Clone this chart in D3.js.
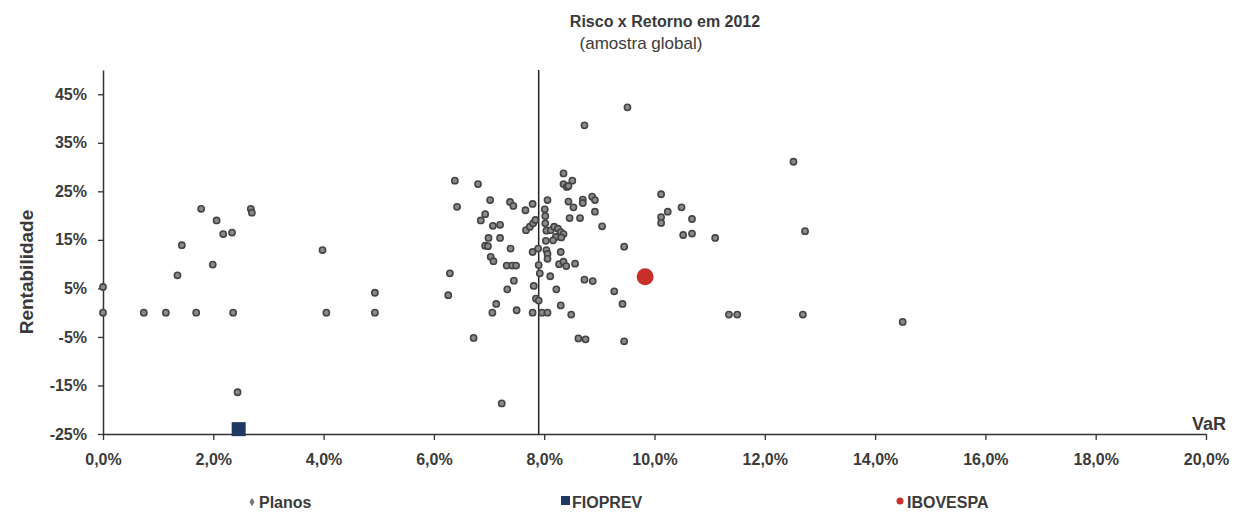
<!DOCTYPE html>
<html>
<head>
<meta charset="utf-8">
<script src="https://cdn.jsdelivr.net/npm/d3@7"></script>
<style>
  html, body { margin: 0; padding: 0; background: #fff; }
  svg { display: block; }
  text { font-family: "Liberation Sans", Arial, sans-serif; fill: #3a3a3a; }
</style>
</head>
<body>
<svg id="chart" width="1234" height="514"></svg>
<script>
// Planos: [VaR %, Rentabilidade %]
const planos = [
  [0.0, 0.0], [0.0, 5.3], [0.74, 0.0], [1.14, 0.0], [1.69, 0.0], [2.36, 0.0],
  [4.05, 0.0], [4.93, 0.0], [4.93, 4.1], [3.98, 12.9], [1.78, 21.4], [2.06, 19.0],
  [2.18, 16.2], [2.34, 16.5], [2.68, 21.4], [2.70, 20.6], [1.43, 13.9], [1.99, 9.9],
  [1.35, 7.7], [2.44, -16.4],
  [9.51, 42.3], [8.73, 38.6], [12.52, 31.1], [12.73, 16.8], [6.38, 27.2], [6.80, 26.5],
  [6.42, 21.8], [7.02, 23.2], [7.38, 22.8], [7.44, 22.0], [7.66, 21.1], [7.79, 22.4],
  [8.06, 23.2], [8.01, 21.3], [8.35, 28.7], [8.35, 26.5], [8.41, 25.9], [8.51, 27.2],
  [8.44, 26.1], [8.44, 22.9], [8.53, 21.7], [8.70, 23.3], [8.70, 22.6], [8.87, 23.9],
  [8.92, 23.2], [8.92, 20.8], [8.46, 19.5], [8.65, 19.5], [9.05, 17.8], [9.45, 13.6],
  [10.12, 24.4], [10.12, 19.7], [10.12, 18.5], [10.24, 20.8], [10.49, 21.7], [10.68, 19.3],
  [10.52, 16.0], [10.68, 16.3], [11.10, 15.4],
  [6.93, 20.3], [6.85, 19.0], [7.07, 17.9], [7.20, 18.1], [6.99, 15.4], [7.20, 15.4],
  [6.93, 13.8], [6.98, 13.7], [7.39, 13.2], [7.03, 11.5], [7.08, 10.6], [7.32, 9.7],
  [7.42, 9.7], [7.49, 9.7], [6.29, 8.1], [7.67, 17.0], [7.74, 17.7], [7.80, 18.4],
  [7.84, 19.1], [7.79, 12.5], [7.89, 13.2], [8.02, 19.9], [8.02, 18.4], [8.04, 16.9],
  [8.12, 17.0], [8.18, 17.7], [8.25, 17.3], [8.30, 16.6], [8.35, 16.2], [8.21, 15.6],
  [8.31, 15.5], [8.16, 14.9], [8.03, 14.8], [8.04, 12.9], [8.06, 12.1], [8.06, 11.1],
  [8.30, 12.5], [8.27, 10.0], [8.35, 10.5], [8.40, 9.6], [8.56, 10.1], [7.92, 8.1],
  [8.11, 7.5], [7.90, 9.8],
  [6.26, 3.6], [7.45, 6.6], [7.33, 4.8], [7.13, 1.8], [7.06, 0.0], [7.50, 0.5],
  [7.81, 5.5], [7.85, 2.9], [7.90, 2.5], [8.22, 4.8], [8.30, 1.5], [7.79, 0.0],
  [7.96, 0.0], [8.06, 0.0], [8.49, -0.4], [8.73, 6.8], [8.88, 6.5], [8.62, -5.3],
  [8.75, -5.5], [6.72, -5.2], [7.23, -18.7], [9.27, 4.4], [9.42, 1.8], [9.45, -5.9],
  [11.35, -0.4], [11.50, -0.4], [12.69, -0.4], [14.50, -1.9]
];

const fioprev = [[2.46, -24.0]];
const ibovespa = [[9.83, 7.4]];

// VaR médio da amostra (linha vertical)
const varMedio = 7.9;

const xTicks = [0, 2, 4, 6, 8, 10, 12, 14, 16, 18, 20];
const yTicks = [-25, -15, -5, 5, 15, 25, 35, 45];

const svg = d3.select("#chart");

const x = d3.scaleLinear().domain([0, 20]).range([103, 1206]);
const y = d3.scaleLinear().domain([-25, 50]).range([434, 70]);

// Título
svg.append("text")
  .attr("x", 665).attr("y", 27)
  .attr("text-anchor", "middle")
  .attr("font-size", 16).attr("font-weight", "bold")
  .text("Risco x Retorno em 2012");
svg.append("text")
  .attr("x", 641).attr("y", 49)
  .attr("text-anchor", "middle")
  .attr("font-size", 17)
  .text("(amostra global)");

// Eixos
const xAxis = d3.axisBottom(x)
  .tickValues(xTicks)
  .tickSize(6).tickSizeOuter(0)
  .tickFormat(d => d.toFixed(1).replace(".", ",") + "%");
const yAxis = d3.axisLeft(y)
  .tickValues(yTicks)
  .tickSize(5).tickSizeOuter(0)
  .tickFormat(d => d + "%");

const gx = svg.append("g").attr("transform", `translate(0,${y(-25)})`).call(xAxis);
const gy = svg.append("g").attr("transform", `translate(${x(0)},0)`).call(yAxis);

[gx, gy].forEach(g => {
  g.select(".domain").attr("stroke", "#333").attr("stroke-width", 1.5);
  g.selectAll(".tick line").attr("stroke", "#333").attr("stroke-width", 1.3);
  g.selectAll(".tick text")
    .attr("fill", "#3a3a3a")
    .attr("font-family", "'Liberation Sans', Arial, sans-serif")
    .attr("font-weight", "bold")
    .attr("font-size", 16);
});
gx.selectAll(".tick text").attr("dy", "1.35em");
gy.selectAll(".tick text").attr("x", -16);

// Linha vertical do VaR médio
svg.append("line")
  .attr("x1", x(varMedio)).attr("x2", x(varMedio))
  .attr("y1", y(50)).attr("y2", y(-25))
  .attr("stroke", "#222").attr("stroke-width", 1.5);

// Títulos dos eixos
svg.append("text")
  .attr("transform", `translate(33,${(y(-25) + y(50)) / 2 + 20}) rotate(-90)`)
  .attr("text-anchor", "middle")
  .attr("font-size", 19).attr("font-weight", "bold")
  .attr("fill", "#555")
  .text("Rentabilidade");
svg.append("text")
  .attr("x", 1226).attr("y", 430)
  .attr("text-anchor", "end")
  .attr("font-size", 18).attr("font-weight", "bold")
  .text("VaR");

// Planos
svg.append("g").selectAll("circle")
  .data(planos)
  .join("circle")
  .attr("cx", d => x(d[0]))
  .attr("cy", d => y(d[1]))
  .attr("r", 3.1)
  .attr("fill", "#8a8a8a")
  .attr("stroke", "#444")
  .attr("stroke-width", 1.6);

// FIOPREV
svg.append("g").selectAll("rect")
  .data(fioprev)
  .join("rect")
  .attr("x", d => x(d[0]) - 7)
  .attr("y", d => y(d[1]) - 7)
  .attr("width", 14).attr("height", 14)
  .attr("fill", "#1f3864");

// IBOVESPA
svg.append("g").selectAll("circle")
  .data(ibovespa)
  .join("circle")
  .attr("cx", d => x(d[0]))
  .attr("cy", d => y(d[1]))
  .attr("r", 8.5)
  .attr("fill", "#c9302c");

// Legenda
const legend = svg.append("g").attr("font-size", 16).attr("font-weight", "bold");
legend.append("path")
  .attr("d", d3.symbol(d3.symbolDiamond, 22)())
  .attr("transform", "translate(252,502)")
  .attr("fill", "#777");
legend.append("text").attr("x", 259).attr("y", 508).attr("font-weight", "bold").text("Planos");
legend.append("rect")
  .attr("x", 561).attr("y", 496).attr("width", 9).attr("height", 9)
  .attr("fill", "#1f3864");
legend.append("text").attr("x", 572).attr("y", 508).attr("font-weight", "bold").text("FIOPREV");
legend.append("circle")
  .attr("cx", 900).attr("cy", 501).attr("r", 3.5)
  .attr("fill", "#c9302c");
legend.append("text").attr("x", 907).attr("y", 508).attr("font-weight", "bold").text("IBOVESPA");
</script>
</body>
</html>
